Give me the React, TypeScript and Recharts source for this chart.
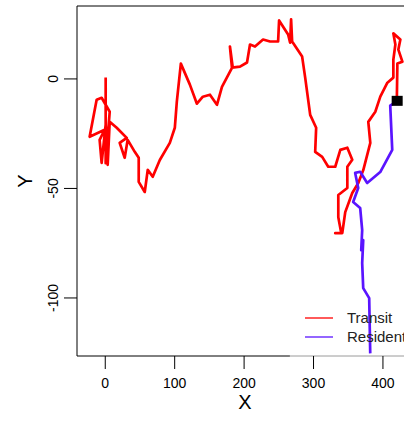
import {
  ComposedChart,
  Line,
  Scatter,
  XAxis,
  YAxis,
  ReferenceLine
} from "recharts";

// Transit track (red)
const transitX = [
  420, 420.8, 428, 422.2, 425.1, 415, 417.9, 415, 415, 406.4, 396.2, 389, 378.9, 381.8,
  371.7, 364.5, 355.8, 345.7, 341.4, 331.3, 340, 335.7, 335.7, 348.7, 348.7, 355.8, 348.7,
  338.6, 331.3, 321.2, 312.5, 302.4, 303.8, 295.2, 288, 283.6, 269.2, 267.7, 266.3, 263.4,
  250.4, 249, 237.4, 227.3, 215.7, 208.5, 204.2, 194.1, 182.5, 179.6, 183.5, 168.1, 160.9,
  150.8, 140.6, 132, 121.9, 108.9, 103.1, 100.2, 93, 78.6, 68.4, 61.2, 56.9, 48.2, 48.2,
  42.5, 32.3, 28, 20.8, 30.9, 16.5, 6.4, 3.5, 0.6, -5.2, -8.1, -0.9, -22.5, -12.4, -5.2,
  6.4, 0.6, 0.6
];
const transitY = [
  -10, 7, 7.9, 13.4, 18, 20.8, 15.7, 8.8, 0.6, -1.7, -8.1, -15, -19.6, -29.2,
  -41.6, -47.5, -52.1, -60.8, -70.4, -70.4, -70.4, -63.1, -53, -49.8, -40.1, -36.9, -31.4,
  -32.4, -40.1, -40.1, -35.6, -33.3, -22.3, -16.4, 0.6, 10.2, 17.1, 27.2, 16.6, 20.3,
  26.7, 17.1, 17.1, 18, 14.8, 15.7, 7.5, 5.6, 5.2, 14.8, 5.6, -3.6, -11.8,
  -7.2, -8.1, -11.3, -2.6, 7, -10.4, -22.3, -29.2, -37, -44.7, -41.5, -51.6, -47, -36,
  -33.3, -27.8, -36, -29.2, -26.9, -22.3, -19.5, -39.2, -20.9, -38.3, -27.8, -23.2, -26.4, -9.5, -8.6,
  -15, -38.5, 0.6
];

// Resident track (blue)
const residentX = [
  416, 410.5, 413.4, 396.1, 377.3, 367.2, 360, 364.4, 357.1, 367.2, 370.1, 368.7, 371.6,
  370.1, 371.6, 380.2, 381.7
];
const residentY = [
  -11, -12.2, -32.4, -42.5, -47.5, -42.4, -42.9, -49.8, -56.2, -58.9, -69, -78.2, -73.6,
  -84.1, -95.5, -100.1, -125.3
];

const releasePoint = [{ x: 420.5, y: -10 }];

const xTicks = [0, 100, 200, 300, 400];
const yTicks = [-100, -50, 0];
const xDomain: [number, number] = [-40.7, 443.3];
const yDomain: [number, number] = [-126.5, 33.3];

const transitData = transitX.map((x, i) => ({ x, y: transitY[i] }));
const residentData = residentX.map((x, i) => ({ x, y: residentY[i] }));

const FONT = "'Liberation Sans', Arial, sans-serif";
const RED = "#ff0000";
const BLUE = "#5a14ff";

const YTick = (props: any) => {
  const { x, y, payload } = props;
  return (
    <text
      x={x}
      y={y}
      transform={`rotate(-90 ${x} ${y})`}
      textAnchor="middle"
      fontSize={14}
      fontFamily={FONT}
      fill="#000"
    >
      {payload.value}
    </text>
  );
};

const YLabel = (props: any) => {
  const vb = props.viewBox;
  const cx = vb.x + 32;
  const cy = vb.y + vb.height / 2;
  return (
    <text
      x={cx}
      y={cy}
      transform={`rotate(-90 ${cx} ${cy})`}
      textAnchor="middle"
      fontSize={20}
      fontFamily={FONT}
      fill="#000"
    >
      Y
    </text>
  );
};

// legend drawn as an overlay so it doesn't eat plot space
const LegendBox = () => (
  <svg
    width={120}
    height={44}
    style={{ position: "absolute", left: 300, top: 305, overflow: "visible" }}
  >
    <line x1={5} x2={33} y1={13} y2={13} stroke={RED} strokeWidth={1.3} />
    <line x1={5} x2={33} y1={32} y2={32} stroke={BLUE} strokeWidth={1.3} />
    <text x={47} y={18} fontSize={15} fontFamily={FONT} fill="#222">
      Transit
    </text>
    <text x={47} y={37} fontSize={15} fontFamily={FONT} fill="#222">
      Resident
    </text>
  </svg>
);

export default function App() {
  return (
    <div
      style={{
        position: "absolute",
        left: 0,
        top: 0,
        width: 404,
        height: 421,
        overflow: "hidden",
        background: "#fff"
      }}
    >
      <ComposedChart
        width={413}
        height={421}
        margin={{ top: 6, right: 0, bottom: 0, left: 0 }}
      >
        <XAxis
          type="number"
          dataKey="x"
          domain={xDomain}
          allowDataOverflow
          ticks={xTicks}
          axisLine={false}
          tickLine={{ stroke: "#000" }}
          tickSize={13}
          tickMargin={9}
          height={65}
          tick={{ fontSize: 14, fill: "#000", fontFamily: FONT }}
          label={{
            value: "X",
            position: "insideBottom",
            offset: 12,
            fontSize: 20,
            fill: "#000",
            fontFamily: FONT
          }}
        />
        <YAxis
          type="number"
          dataKey="y"
          domain={yDomain}
          allowDataOverflow
          ticks={yTicks}
          width={77}
          axisLine={{ stroke: "#000" }}
          tickLine={{ stroke: "#000" }}
          tickSize={13}
          tickMargin={6}
          tick={<YTick />}
          label={<YLabel />}
        />
        <ReferenceLine y={yDomain[1]} stroke="#000" ifOverflow="visible" />
        <ReferenceLine
          segment={[
            { x: xDomain[0], y: yDomain[0] },
            { x: 266, y: yDomain[0] }
          ]}
          stroke="#000"
          ifOverflow="visible"
        />
        <ReferenceLine
          segment={[
            { x: 266, y: yDomain[0] },
            { x: xDomain[1], y: yDomain[0] }
          ]}
          stroke="#9a9a9a"
          ifOverflow="visible"
        />
        <Line
          data={transitData}
          dataKey="y"
          type="linear"
          stroke={RED}
          strokeWidth={2.7}
          strokeLinejoin="round"
          dot={false}
          activeDot={false}
          isAnimationActive={false}
        />
        <Line
          data={residentData}
          dataKey="y"
          type="linear"
          stroke={BLUE}
          strokeWidth={2.7}
          strokeLinejoin="round"
          dot={false}
          activeDot={false}
          isAnimationActive={false}
        />
        <Scatter
          data={releasePoint}
          dataKey="y"
          isAnimationActive={false}
          shape={(p: any) => (
            <rect x={p.cx - 5.5} y={p.cy - 5} width={11} height={10} fill="#000" />
          )}
        />
      </ComposedChart>
      <LegendBox />
    </div>
  );
}
